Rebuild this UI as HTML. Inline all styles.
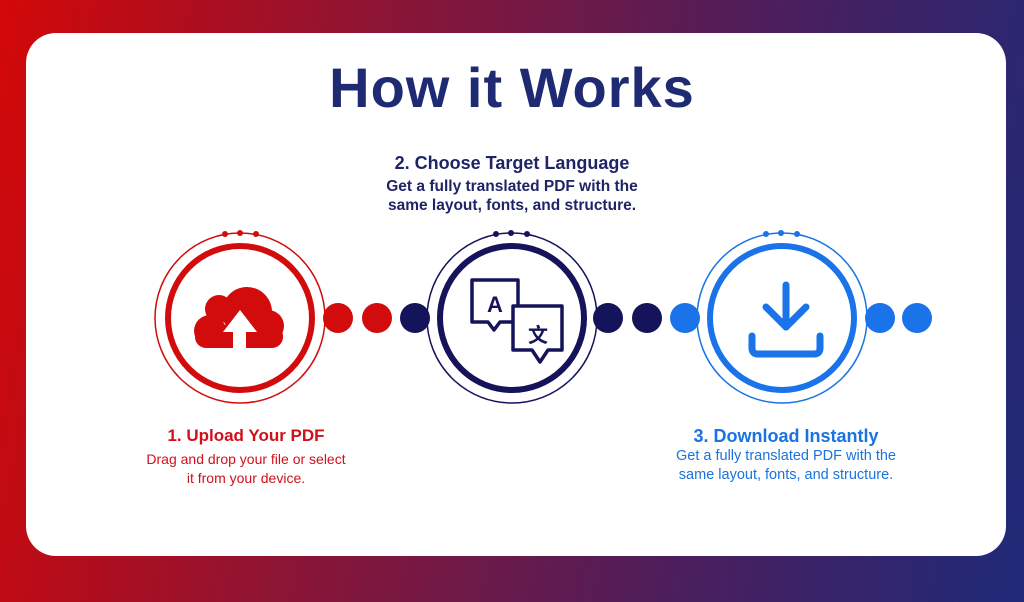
<!DOCTYPE html>
<html><head><meta charset="utf-8"><style>
html,body{margin:0;padding:0;}
body{width:1024px;height:602px;position:relative;overflow:hidden;
background:linear-gradient(100deg,#d30808 0%,#8a1536 35%,#4a1f5e 70%,#1f2a78 100%);
font-family:"Liberation Sans",sans-serif;}
.card{position:absolute;left:26px;top:33px;width:980px;height:523px;background:#fff;border-radius:30px;}
.t{position:absolute;text-align:center;font-weight:bold;white-space:nowrap;}
</style></head><body>
<div class="card"></div>
<div class="t" style="left:0;width:1024px;top:55px;font-size:56px;color:#1e2b72;letter-spacing:1px;">How it Works</div>
<div class="t" style="left:262px;width:500px;top:153px;font-size:18px;color:#1e2466;">2. Choose Target Language</div>
<div class="t" style="left:262px;width:500px;top:177px;font-size:15.5px;line-height:19px;color:#1e2466;">Get a fully translated PDF with the<br>same layout, fonts, and structure.</div>
<div class="t" style="left:96px;width:300px;top:426px;font-size:17px;color:#d0101a;">1. Upload Your PDF</div>
<div class="t" style="left:96px;width:300px;top:450px;font-size:14px;line-height:19px;color:#d0101a;font-weight:normal;">Drag and drop your file or select<br>it from your device.</div>
<div class="t" style="left:636px;width:300px;top:426px;font-size:18px;color:#1a73e0;">3. Download Instantly</div>
<div class="t" style="left:636px;width:300px;top:447px;font-size:14.5px;line-height:19px;color:#1a73e0;font-weight:normal;">Get a fully translated PDF with the<br>same layout, fonts, and structure.</div>
<svg width="1024" height="602" style="position:absolute;left:0;top:0">
<g fill="none">
<circle cx="240" cy="318" r="85" stroke="#d20c0c" stroke-width="1.5"/>
<circle cx="240" cy="318" r="72" stroke="#d20c0c" stroke-width="6"/>
<circle cx="512" cy="318" r="85" stroke="#15135a" stroke-width="1.5"/>
<circle cx="512" cy="318" r="72" stroke="#15135a" stroke-width="6"/>
<circle cx="782" cy="318" r="85" stroke="#1a73e8" stroke-width="1.5"/>
<circle cx="782" cy="318" r="72" stroke="#1a73e8" stroke-width="6"/>
</g>
<g fill="#d20c0c"><circle cx="225" cy="234" r="3"/><circle cx="240" cy="233" r="3"/><circle cx="256" cy="234" r="3"/>
<circle cx="338" cy="318" r="15"/><circle cx="377" cy="318" r="15"/></g>
<g fill="#15135a"><circle cx="496" cy="234" r="3"/><circle cx="511" cy="233" r="3"/><circle cx="527" cy="234" r="3"/>
<circle cx="415" cy="318" r="15"/><circle cx="608" cy="318" r="15"/><circle cx="647" cy="318" r="15"/></g>
<g fill="#1a73e8"><circle cx="766" cy="234" r="3"/><circle cx="781" cy="233" r="3"/><circle cx="797" cy="234" r="3"/>
<circle cx="685" cy="318" r="15"/><circle cx="880" cy="318" r="15"/><circle cx="917" cy="318" r="15"/></g>
<!-- cloud -->
<g fill="#d20c0c">
<circle cx="247" cy="312" r="25"/><circle cx="219" cy="309" r="14"/><circle cx="268" cy="326" r="16"/><circle cx="210" cy="331" r="16"/>
<rect x="195" y="325" width="88" height="23" rx="11"/>
</g>
<path d="M240 310 L257 332 L246 332 L246 349 L233 349 L233 332 L223 332 Z" fill="#fff"/>
<!-- translate -->
<g fill="none" stroke="#15135a" stroke-width="3.5" stroke-linejoin="round" stroke-linecap="round">
<path d="M472 280 H518 V322 H500 L494 330 L488 322 H472 Z"/>
<path d="M513 306 H562 V350 H548 L540 362 L532 350 H513 Z" fill="#fff"/>
</g>
<text x="495" y="312" text-anchor="middle" font-size="22" font-weight="bold" fill="#15135a" font-family="Liberation Sans,sans-serif">A</text>
<text x="538" y="342" text-anchor="middle" font-size="20" font-weight="bold" fill="#15135a" font-family="Noto Sans CJK SC,sans-serif">文</text>
<!-- download -->
<g fill="none" stroke="#1a73e8" stroke-width="7" stroke-linecap="round" stroke-linejoin="round">
<path d="M786 285 V327"/><path d="M766 307 L786 327 L806 307"/>
<path d="M752 336 V348 Q752 354 758 354 H814 Q820 354 820 348 V336"/>
</g>
</svg>
</body></html>
